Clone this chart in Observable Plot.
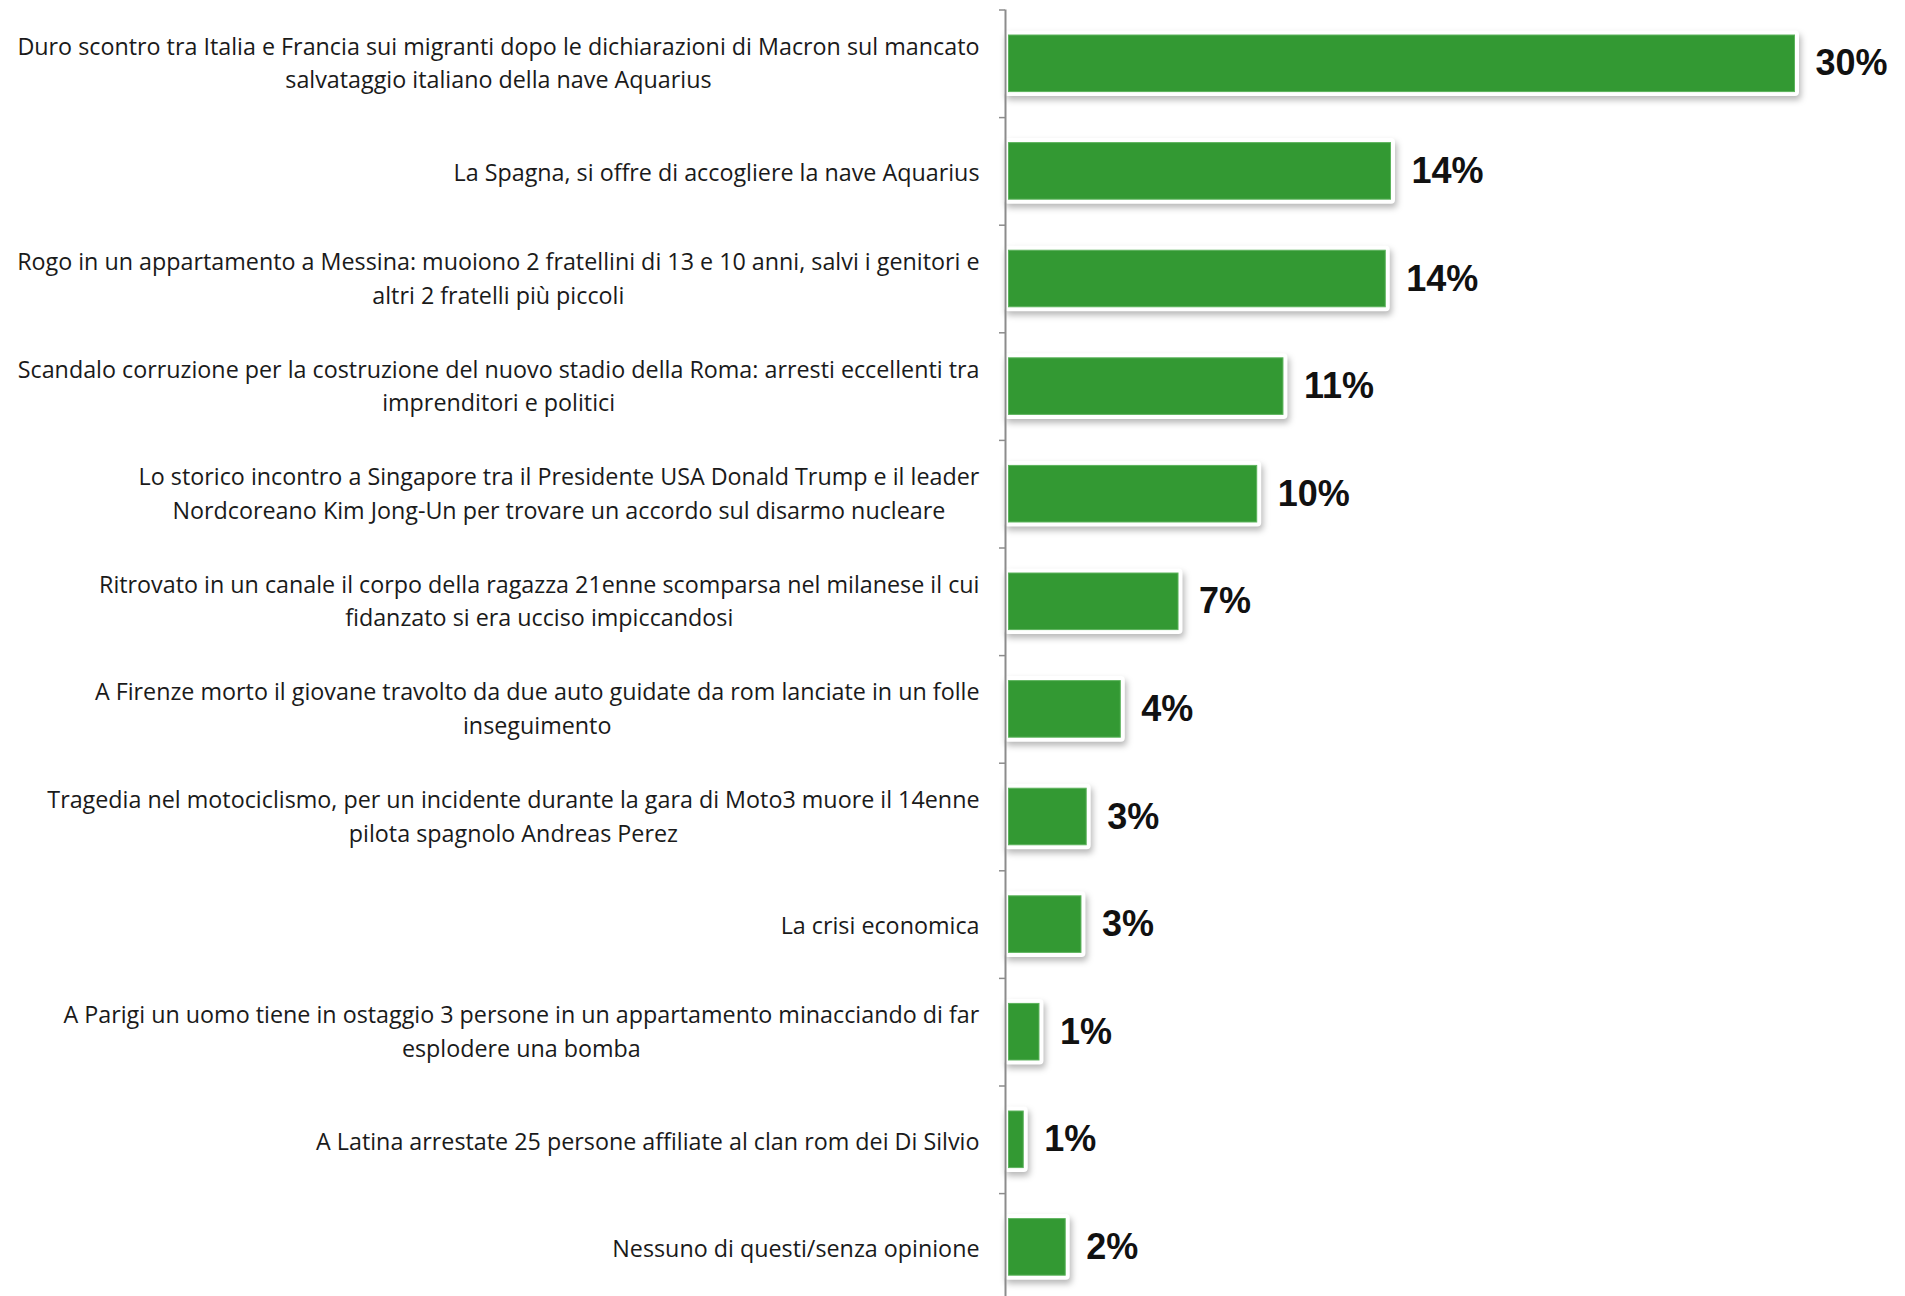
<!DOCTYPE html>
<html>
<head>
<meta charset="utf-8">
<script src="https://cdn.jsdelivr.net/npm/d3@7"></script>
<script src="https://cdn.jsdelivr.net/npm/@observablehq/plot@0.6"></script>
<style>
  html, body { margin: 0; padding: 0; background: #fff; overflow: hidden; }
  #chart svg { display: block; }
</style>
</head>
<body>
<div id="chart"></div>
<script>
const categories = [
  "Duro scontro tra Italia e Francia sui migranti dopo le dichiarazioni di Macron sul mancato\nsalvataggio italiano della nave Aquarius",
  "La Spagna, si offre di accogliere la nave Aquarius",
  "Rogo in un appartamento a Messina: muoiono 2 fratellini di 13 e 10 anni, salvi i genitori e\naltri 2 fratelli più piccoli",
  "Scandalo corruzione per la costruzione del nuovo stadio della Roma: arresti eccellenti tra\nimprenditori e politici",
  "Lo storico incontro a Singapore tra il Presidente USA Donald Trump e il leader\nNordcoreano Kim Jong-Un per trovare un accordo sul disarmo nucleare",
  "Ritrovato in un canale il corpo della ragazza 21enne scomparsa nel milanese il cui\nfidanzato si era ucciso impiccandosi",
  "A Firenze morto il giovane travolto da due auto guidate da rom lanciate in un folle\ninseguimento",
  "Tragedia nel motociclismo, per un incidente durante la gara di Moto3 muore il 14enne\npilota spagnolo Andreas Perez",
  "La crisi economica",
  "A Parigi un uomo tiene in ostaggio 3 persone in un appartamento minacciando di far\nesplodere una bomba",
  "A Latina arrestate 25 persone affiliate al clan rom dei Di Silvio",
  "Nessuno di questi/senza opinione"
];
const values = [30, 14.6, 14.4, 10.5, 9.5, 6.5, 4.3, 3.0, 2.8, 1.2, 0.6, 2.2];
const valueLabels = ["30%", "14%", "14%", "11%", "10%", "7%", "4%", "3%", "3%", "1%", "1%", "2%"];

const rows = categories.map((c, i) => ({cat: c, value: values[i], label: valueLabels[i]}));

const W = 1905, H = 1310, mTop = 9.5, mBottom = 9.3, mLeft = 1008, mRight = 110;
const step = (H - mTop - mBottom) / categories.length;
const green = "#339933";
const axisColor = "#8c8c8c";

const chart = Plot.plot({
  width: W,
  height: H,
  marginTop: mTop,
  marginBottom: mBottom,
  marginLeft: mLeft,
  marginRight: mRight,
  style: {background: "#fff"},
  x: {domain: [0, 30], axis: null},
  y: {domain: categories, paddingInner: 0.465, paddingOuter: 0.2325, round: false, axis: null},
  marks: [
    Plot.barX(rows, {x: "value", y: "cat", fill: "#fff", stroke: "#fff", strokeWidth: 8, strokeLinejoin: "round"}),
    Plot.barX(rows, {x: "value", y: "cat", fill: green, stroke: "#5cb35c", strokeWidth: 1, inset: 0.5}),
    Plot.axisY({anchor: "left", tickSize: 6, tickFormat: () => "", dy: -step / 2, dx: -3, stroke: axisColor, strokeWidth: 1.5, label: null}),
    Plot.ruleX([0], {stroke: axisColor, strokeWidth: 2, dx: -3}),
    Plot.text(rows, {y: "cat", text: "cat", frameAnchor: "left", textAnchor: "end", lineAnchor: "middle", dx: -29, dy: -1, lineHeight: 1.44, fontSize: 23.3, fontFamily: "'Open Sans', Lato, sans-serif", fill: "#1a1a1a"}),
    Plot.text(rows, {x: "value", y: "cat", text: "label", textAnchor: "start", dx: 20, fontSize: 36, fontWeight: "bold", fontFamily: "'Liberation Sans', Arial, sans-serif", fill: "#111"})
  ]
});

document.getElementById("chart").appendChild(chart);

// drop shadow behind the bars (white frame layer)
const barGroups = chart.querySelectorAll('g[aria-label="bar"]');
if (barGroups.length) barGroups[0].style.filter = "drop-shadow(2px 4px 3px rgba(0,0,0,0.28))";

// centre multi-line category labels as a block, right-aligned to the axis
const textGroups = chart.querySelectorAll('g[aria-label="text"]');
if (textGroups.length) {
  textGroups[0].querySelectorAll("text").forEach(t => {
    const spans = t.querySelectorAll("tspan");
    if (spans.length > 1) {
      const w = t.getBBox().width;
      t.setAttribute("text-anchor", "middle");
      spans.forEach(s => s.setAttribute("x", -w / 2));
      const tr = t.getAttribute("transform") || "";
      t.setAttribute("transform", tr + " translate(0,-2)");
    }
  });
}
</script>
</body>
</html>
